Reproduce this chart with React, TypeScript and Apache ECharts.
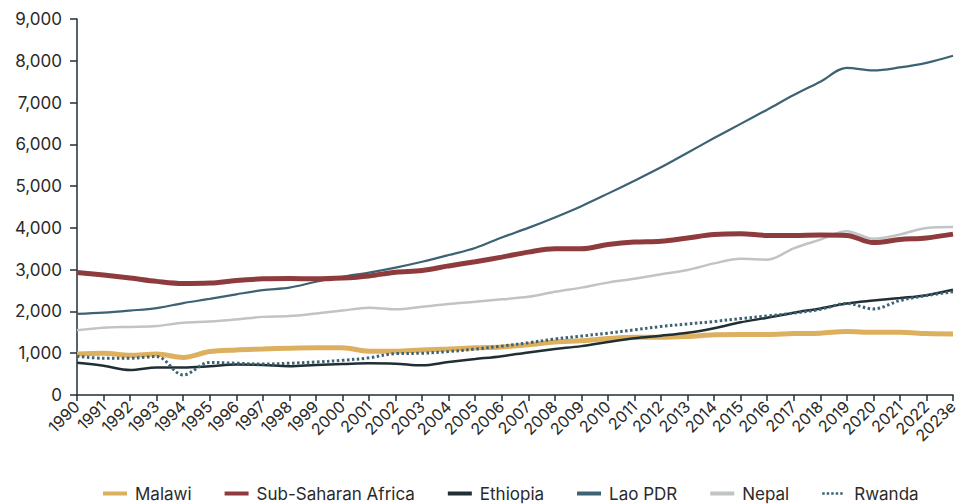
import React, { useEffect, useRef } from "react";
import * as echarts from "echarts";

const years = ["1990","1991","1992","1993","1994","1995","1996","1997","1998","1999","2000","2001","2002","2003","2004","2005","2006","2007","2008","2009","2010","2011","2012","2013","2014","2015","2016","2017","2018","2019","2020","2021","2022","2023e"];

const malawi = [980,1000,950,980,900,1040,1080,1100,1120,1130,1130,1050,1050,1080,1100,1130,1150,1200,1270,1300,1350,1380,1380,1400,1440,1450,1450,1470,1480,1520,1500,1500,1470,1460];
const ssa = [2930,2870,2800,2720,2670,2680,2740,2780,2790,2780,2800,2850,2940,2980,3090,3190,3300,3420,3500,3500,3600,3660,3680,3760,3840,3860,3820,3820,3830,3820,3650,3720,3760,3850];
const ethiopia = [770,700,600,660,660,690,730,720,690,720,740,760,750,710,790,860,930,1020,1100,1170,1270,1360,1420,1490,1600,1740,1850,1970,2070,2190,2260,2320,2390,2520];
const lao = [1940,1970,2020,2080,2200,2300,2410,2510,2570,2710,2830,2930,3050,3190,3350,3520,3770,4000,4250,4520,4820,5130,5450,5800,6150,6490,6830,7180,7500,7830,7770,7840,7950,8120];
const nepal = [1550,1610,1630,1650,1730,1760,1810,1870,1890,1950,2020,2090,2050,2110,2180,2230,2290,2350,2470,2570,2690,2780,2890,2990,3150,3260,3240,3510,3720,3920,3740,3840,4000,4020];
const rwanda = [930,880,880,920,480,780,760,740,760,790,830,890,990,1000,1040,1100,1170,1250,1340,1410,1480,1560,1640,1700,1760,1830,1890,1960,2050,2190,2060,2260,2380,2470];

const FONT = "Inter, 'Noto Sans', sans-serif";

const SOLID_ICON = "path://M0 0H24V4H0Z M27 0L27 4";
const DOT_ICON = "path://M0 0H2.5V2.5H0Z M4.5 0H7V2.5H4.5Z M9 0H11.5V2.5H9Z M13.5 0H16V2.5H13.5Z M18 0H20.5V2.5H18Z M27 0L27 2.5";

export default function App() {
  const ref = useRef<HTMLDivElement>(null);
  useEffect(() => {
    if (!ref.current) return;
    const chart = echarts.init(ref.current, undefined, { renderer: "svg" });
    const mk = (name: string, data: number[], color: string, width: number, type: any = "solid") => ({
      name,
      type: "line",
      data,
      smooth: 0.35,
      symbol: "none",
      lineStyle: { color, width, type, cap: "butt" },
      itemStyle: { color },
    });
    const leg = (name: string, color: string, h: number, icon = SOLID_ICON) => ({
      name,
      icon,
      itemStyle: { color, borderWidth: 0 },
      itemHeight: h,
    });
    chart.setOption({
      animation: false,
      textStyle: { fontFamily: FONT },
      grid: { left: 77, right: 14, top: 19, bottom: 109, containLabel: false },
      xAxis: {
        type: "category",
        data: years,
        boundaryGap: false,
        axisLine: { lineStyle: { color: "#1f2f33", width: 1.5 } },
        axisTick: { show: true, length: 6, lineStyle: { color: "#1f2f33", width: 1.5 } },
        axisLabel: { rotate: 45, fontSize: 16, color: "#2a2a2a", fontFamily: FONT, margin: 9, interval: 0 },
      },
      yAxis: {
        type: "value",
        min: 0,
        max: 9000,
        interval: 1000,
        splitLine: { show: false },
        axisLine: { show: true, lineStyle: { color: "#1f2f33", width: 1.5 } },
        axisTick: { show: true, length: 7, lineStyle: { color: "#1f2f33", width: 1.5 } },
        axisLabel: {
          fontSize: 17,
          color: "#2a2a2a",
          fontFamily: FONT,
          margin: 15,
          formatter: (v: number) => v.toLocaleString("en-US"),
        },
      },
      legend: {
        top: 484,
        left: 103,
        padding: 0,
        itemWidth: 27,
        itemHeight: 5,
        itemGap: 33,
        textStyle: { fontSize: 17, lineHeight: 19, color: "#2a2a2a", fontFamily: FONT },
        data: [
          leg("Malawi", "#ddb05f", 5),
          leg("Sub-Saharan Africa", "#8e3b3d", 5),
          leg("Ethiopia", "#1f2f33", 3),
          leg("Lao PDR", "#3d6273", 3),
          leg("Nepal", "#c0c4c4", 3),
          leg("Rwanda", "#3d6273", 3, DOT_ICON),
        ],
      },
      series: [
        mk("Nepal", nepal, "#c0c4c4", 2.5),
        mk("Lao PDR", lao, "#3d6273", 2.2),
        mk("Sub-Saharan Africa", ssa, "#8e3b3d", 5),
        mk("Malawi", malawi, "#ddb05f", 5),
        mk("Ethiopia", ethiopia, "#1f2f33", 2.5),
        mk("Rwanda", rwanda, "#3d6273", 3, [2.5, 2.5]),
      ],
    });
    return () => chart.dispose();
  }, []);
  return <div ref={ref} style={{ position: "absolute", left: 0, top: 0, width: 967, height: 504 }} />;
}
